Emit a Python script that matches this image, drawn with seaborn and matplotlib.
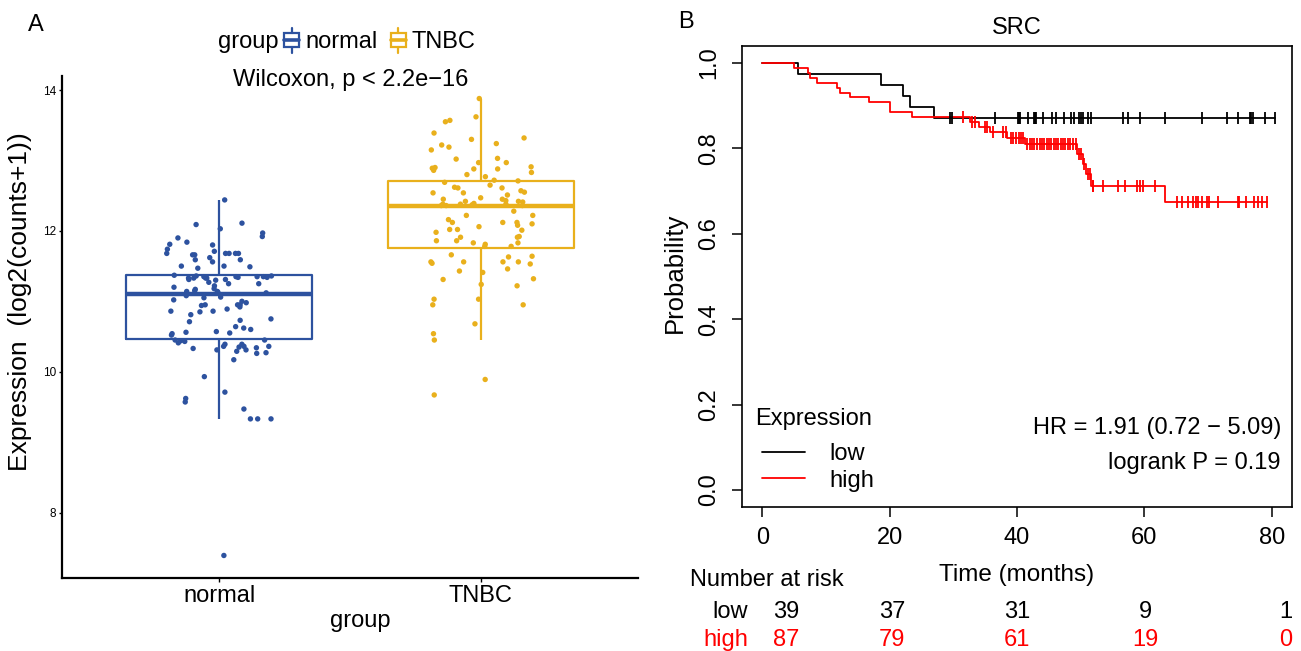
import numpy as np
import pandas as pd
import matplotlib
matplotlib.use("Agg")
import matplotlib.pyplot as plt
from matplotlib.lines import Line2D
from matplotlib.patches import Rectangle
from matplotlib.legend_handler import HandlerBase
import seaborn as sns

# ---------------- data ----------------
groups = ["normal", "TNBC"]
normal_values = [12.44, 12.11, 12.09, 12.03, 11.92, 11.97, 11.90, 11.84, 11.81, 11.80,
                 11.74, 11.71, 11.68, 11.66, 11.68, 11.68, 11.68, 11.68, 11.66, 11.62,
                 11.59, 11.59, 11.56, 11.50, 11.50, 11.49, 11.47, 11.33, 11.33, 11.34,
                 11.36, 11.34, 11.35, 11.35, 11.33, 11.37, 11.35, 11.31, 11.35, 11.31,
                 11.27, 11.30, 11.33, 11.36, 11.22, 11.25, 11.25, 11.17, 11.15, 11.18,
                 11.14, 11.08, 11.06, 11.02, 11.14, 11.05, 11.00, 10.98, 10.95, 10.92,
                 10.95, 10.95, 10.94, 10.89, 10.85, 10.86, 10.86, 10.81, 10.75, 10.71,
                 10.73, 10.64, 10.62, 10.57, 10.55, 10.52, 10.54, 10.56, 10.44, 10.45,
                 10.41, 10.39, 10.43, 10.36, 10.35, 10.36, 10.39, 10.33, 10.27, 10.34,
                 10.36, 10.31, 10.26, 10.31, 10.29, 10.45, 10.17, 9.93, 9.71, 9.62,
                 9.57, 9.47, 9.33, 9.33, 9.33, 7.39, 11.20, 11.13, 11.12, 10.60]
tnbc_values = [13.88, 13.62, 13.57, 13.55, 13.39, 13.32, 13.24, 13.22, 13.30, 13.15,
               13.19, 12.97, 13.03, 12.97, 13.02, 12.88, 12.91, 12.88, 12.86, 12.89,
               12.90, 12.83, 12.77, 12.71, 12.69, 12.62, 12.61, 12.55, 12.54, 12.54,
               12.57, 12.61, 12.51, 12.45, 12.45, 12.42, 12.38, 12.42, 12.43, 12.36,
               12.38, 12.37, 12.36, 12.38, 12.41, 12.28, 12.22, 12.22, 12.16, 12.12,
               12.12, 12.10, 12.12, 12.06, 12.02, 12.08, 12.01, 11.98, 12.02, 11.91,
               11.92, 11.91, 11.86, 11.83, 11.81, 11.86, 11.83, 11.78, 11.78, 11.66,
               11.64, 11.63, 11.56, 11.53, 11.56, 11.56, 11.56, 11.54, 11.46, 11.43,
               11.41, 11.31, 11.32, 11.24, 11.22, 11.03, 11.03, 10.95, 10.95, 10.68,
               10.54, 10.45, 9.89, 9.67, 12.36, 12.39, 12.47, 12.65, 12.72, 12.80]
y_ticks_a = [8, 10, 12, 14]

# Kaplan-Meier raw data (months)
low_event_times = [5.6, 18.7, 22.1, 23.2, 26.9]
low_censor_times = [29.4, 29.8, 36.6, 40.1, 40.3, 40.5, 41.7, 42.7, 42.8, 42.9, 43.0,
                    44.1, 45.5, 46.2, 47.4, 48.5, 48.9, 49.8, 50.1, 50.3, 51.1, 51.7,
                    56.7, 57.5, 59.4, 63.2, 69.1, 73.0, 74.7, 76.6, 76.8, 77.0, 79.0, 80.6]
high_event_times = [5.0, 7.2, 7.5, 8.6, 11.8, 12.2, 13.8, 16.8, 20.1, 20.1, 23.5,
                    32.6, 34.0, 35.8, 38.5, 41.3, 49.5, 50.3, 50.9, 51.7, 63.3]
high_censor_times = [31.5, 33.0, 33.4, 35.0, 35.3, 36.2, 37.8, 38.2, 39.0, 39.4, 39.8,
                     40.3, 40.6, 40.9, 41.6, 42.0, 42.3, 42.7, 43.2, 43.6, 44.0, 44.3,
                     44.7, 45.0, 45.4, 45.8, 46.1, 46.5, 46.9, 47.3, 47.6, 48.0, 48.4,
                     48.8, 49.2, 49.8, 50.1, 50.6, 51.2, 51.5, 51.9, 52.0, 53.5, 55.8,
                     57.0, 58.9, 59.3, 59.8, 61.7, 65.2, 65.9, 66.8, 67.7, 68.1, 68.5,
                     69.0, 69.8, 70.1, 71.5, 74.7, 74.9, 76.0, 77.2, 77.9, 78.5, 79.3]
time_ticks = [0, 20, 40, 60, 80]
risk_low = [39, 37, 31, 9, 1]
risk_high = [87, 79, 61, 19, 0]
hr_text = "HR = 1.91 (0.72 \u2212 5.09)"
p_text = "logrank P = 0.19"

# ---------------- style ----------------
sns.set_theme(style="white")
plt.rcParams["font.family"] = ["Liberation Sans", "DejaVu Sans"]
plt.rcParams["axes.edgecolor"] = "black"
plt.rcParams["xtick.color"] = "black"
plt.rcParams["ytick.color"] = "black"
plt.rcParams["text.color"] = "black"
plt.rcParams["axes.labelcolor"] = "black"

BLUE = "#2D529F"
GOLD = "#E9B01C"
pal = {"normal": BLUE, "TNBC": GOLD}

W, H = 1301, 651
fig = plt.figure(figsize=(W / 100, H / 100), dpi=100)

def fx(px):
    return px / W

def fy(py):
    return 1 - py / H

# ---------------- panel A ----------------
ax1 = fig.add_axes([fx(62), fy(578), fx(638 - 62), (578 - 76) / H])
df = pd.DataFrame({
    "group": ["normal"] * len(normal_values) + ["TNBC"] * len(tnbc_values),
    "value": normal_values + tnbc_values,
})
sns.boxplot(data=df, x="group", y="value", hue="group", order=groups, hue_order=groups,
            palette=pal, fill=False, width=0.71, linewidth=1.6, showfliers=False,
            showcaps=False, medianprops={"linewidth": 3.2}, legend=False, ax=ax1, zorder=2)
np.random.seed(3)
sns.stripplot(data=df, x="group", y="value", hue="group", order=groups, hue_order=groups,
              palette=pal, jitter=0.21, size=3.9, linewidth=0, legend=False, ax=ax1, zorder=3)
ax1.set_xlim(-0.6, 1.6)
ax1.set_ylim(7.07, 14.2)
ax1.set_yticks(y_ticks_a)
ax1.set_yticklabels([str(v) for v in y_ticks_a])
for s in ["top", "right"]:
    ax1.spines[s].set_visible(False)
for s in ["left", "bottom"]:
    ax1.spines[s].set_linewidth(1.6)
    ax1.spines[s].set_color("black")
ax1.tick_params(axis="y", labelsize=8.5, length=2.5, width=1.0, pad=1.5, direction="out", left=True)
ax1.tick_params(axis="x", labelsize=17, length=3, width=1.0, pad=2, direction="out", bottom=True)
ax1.set_xlabel("group", fontsize=17)
ax1.xaxis.label.set_va("center")
ax1.xaxis.set_label_coords(0.517, -0.085)
ax1.set_ylabel("Expression  (log2(counts+1))", fontsize=19)
ax1.yaxis.set_label_coords(-0.052, 0.55)


class BoxKey(HandlerBase):
    def create_artists(self, legend, orig_handle, xdescent, ydescent, width, height,
                       fontsize, trans):
        col = orig_handle.get_color()
        x0, y0 = -xdescent, -ydescent
        bw = width * 0.85
        bx = x0 + (width - bw) / 2
        cx = x0 + width / 2
        rect = Rectangle((bx, y0 + height * 0.15), bw, height * 0.7, fill=False,
                         ec=col, lw=1.6, transform=trans)
        med = Line2D([bx, bx + bw], [y0 + height * 0.5] * 2, color=col, lw=2.6, transform=trans)
        wt = Line2D([cx, cx], [y0 + height * 0.85, y0 + height * 1.15], color=col, lw=1.6, transform=trans)
        wb = Line2D([cx, cx], [y0 - height * 0.15, y0 + height * 0.15], color=col, lw=1.6, transform=trans)
        return [rect, med, wt, wb]


fig.text(fx(218), fy(42), "group", fontsize=17, ha="left", va="center")
handles = [Line2D([], [], color=pal[g]) for g in groups]
fig.legend(handles, groups, loc="center left", bbox_to_anchor=(fx(283), fy(42)),
           ncol=2, frameon=False, fontsize=17, handlelength=0.75, handleheight=0.9,
           handletextpad=0.2, columnspacing=0.5, borderpad=0, borderaxespad=0,
           handler_map={Line2D: BoxKey()})
fig.text(fx(351), fy(80), "Wilcoxon, p < 2.2e\u221216", fontsize=17, ha="center", va="center")
fig.text(fx(36), fy(25), "A", fontsize=17, ha="center", va="center")

# ---------------- panel B ----------------
ax2 = fig.add_axes([fx(742), fy(507), fx(1292 - 742), (507 - 46) / H])


def km_curve(ev_times, ce_times):
    t = np.array(list(ev_times) + list(ce_times), dtype=float)
    e = np.array([1] * len(ev_times) + [0] * len(ce_times))
    order = np.lexsort((1 - e, t))
    t, e = t[order], e[order]
    at_risk = len(t)
    s = 1.0
    xs, ys, cx, cy = [0.0], [1.0], [], []
    i = 0
    while i < len(t):
        j = i
        d = c = 0
        while j < len(t) and t[j] == t[i]:
            if e[j]:
                d += 1
            else:
                c += 1
            j += 1
        if d:
            s *= 1 - d / at_risk
            xs.append(t[i])
            ys.append(s)
        if c:
            cx += [t[i]] * c
            cy += [s] * c
        at_risk -= d + c
        i = j
    xs.append(t[-1])
    ys.append(s)
    return xs, ys, cx, cy


for ev, ce, col in [(low_event_times, low_censor_times, "black"),
                    (high_event_times, high_censor_times, "red")]:
    xs, ys, cx, cy = km_curve(ev, ce)
    sns.lineplot(x=xs, y=ys, drawstyle="steps-post", estimator=None, sort=False,
                 color=col, linewidth=1.3, ax=ax2)
    sns.scatterplot(x=cx, y=cy, marker="|", s=70, color=col, edgecolor=col,
                    linewidth=1.3, ax=ax2, zorder=3)

ax2.set_xlim(-3.2, 83.2)
ax2.set_ylim(-0.04, 1.04)
ax2.set_xticks(time_ticks)
ax2.set_yticks([0.0, 0.2, 0.4, 0.6, 0.8, 1.0])
ax2.set_yticklabels(["0.0", "0.2", "0.4", "0.6", "0.8", "1.0"])
for s in ax2.spines.values():
    s.set_visible(True)
    s.set_linewidth(1.2)
    s.set_color("black")
ax2.tick_params(axis="both", labelsize=17, length=7, width=1.1, direction="out",
                left=True, bottom=True)
ax2.tick_params(axis="x", pad=7.5)
ax2.tick_params(axis="y", pad=9, labelrotation=90)
for lbl in ax2.get_yticklabels():
    lbl.set_va("center")
ax2.set_xlabel("")
ax2.set_ylabel("Probability", fontsize=18.5)
ax2.yaxis.set_label_coords(-0.1, 0.508)
fig.text(fx(1017), fy(575), "Time (months)", fontsize=17.5, ha="center", va="center")
fig.text(fx(1017), fy(28), "SRC", fontsize=17, ha="center", va="center")
fig.text(fx(686), fy(22), "B", fontsize=17, ha="center", va="center")

fig.text(fx(755), fy(419), "Expression", fontsize=17, ha="left", va="center")
leg = ax2.legend([Line2D([], [], color="black", lw=1.3), Line2D([], [], color="red", lw=1.3)],
                 ["low", "high"], loc="upper left",
                 bbox_to_anchor=(fx(762), fy(443)), bbox_transform=fig.transFigure,
                 frameon=False, fontsize=17, handlelength=1.82,
                 handletextpad=1.05, labelspacing=0.2, borderpad=0, borderaxespad=0)

fig.text(fx(1281), fy(428), hr_text, fontsize=17, ha="right", va="center")
fig.text(fx(1281), fy(463), p_text, fontsize=17, ha="right", va="center")

# risk table (label positions in pixels, as placed in the original)
risk_label_px = [786, 892, 1017, 1145, 1286]
fig.text(fx(690), fy(580), "Number at risk", fontsize=17, ha="left", va="center")
fig.text(fx(748), fy(612), "low", fontsize=17, ha="right", va="center", color="black")
fig.text(fx(748), fy(640), "high", fontsize=17, ha="right", va="center", color="red")
for px, n in zip(risk_label_px, risk_low):
    fig.text(fx(px), fy(612), str(n), fontsize=17, ha="center", va="center", color="black")
for px, n in zip(risk_label_px, risk_high):
    fig.text(fx(px), fy(640), str(n), fontsize=17, ha="center", va="center", color="red")

fig.savefig("out.png", dpi=100)
